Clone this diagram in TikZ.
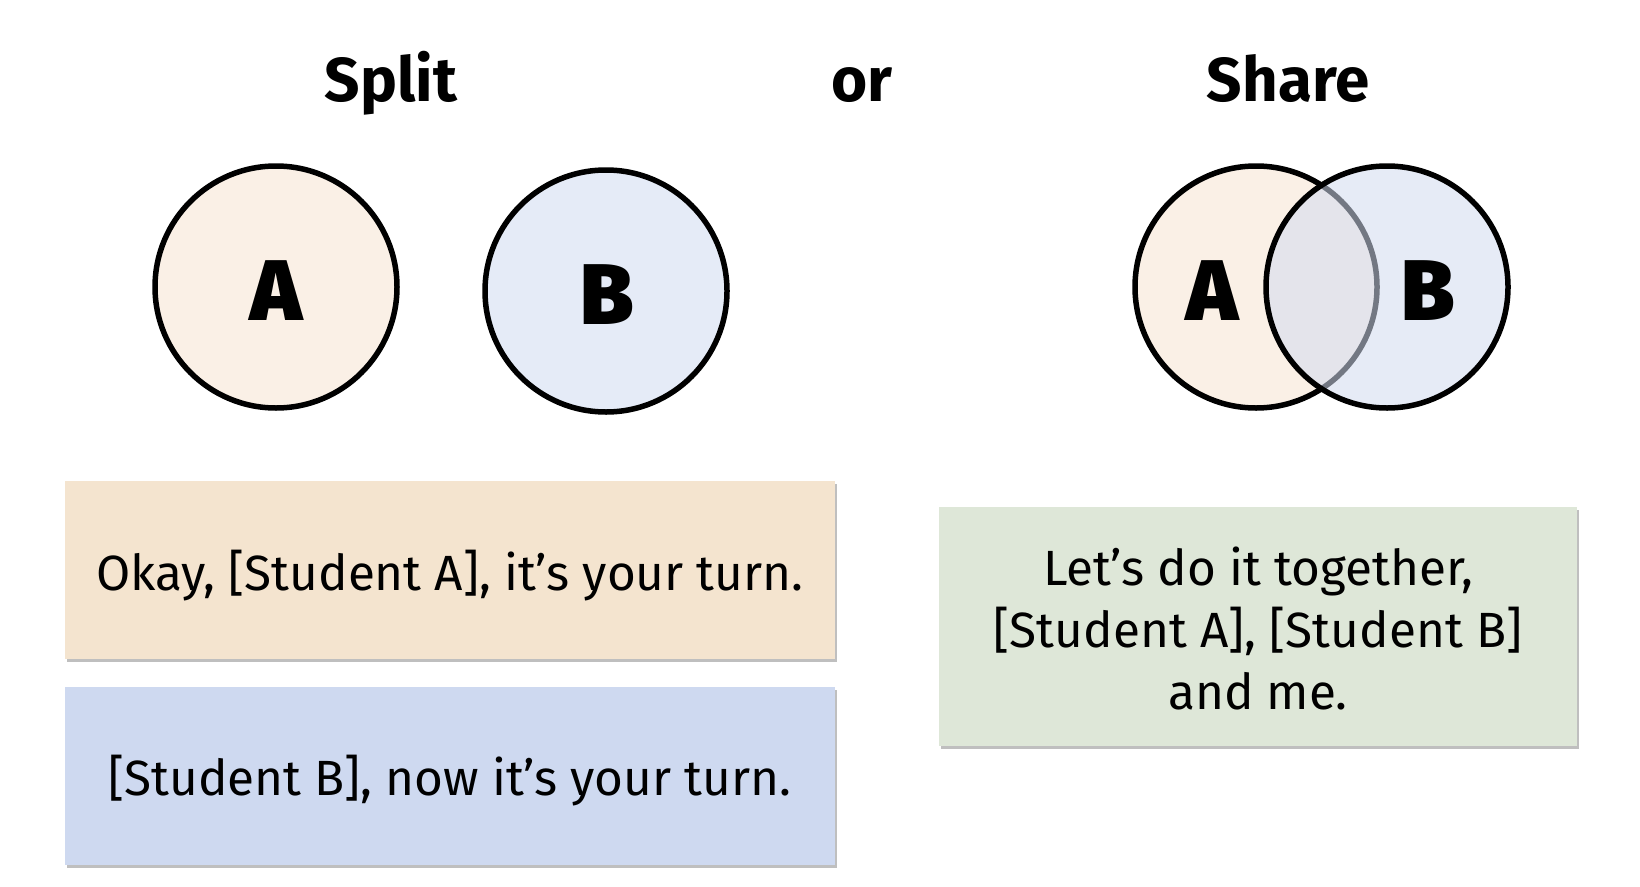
\documentclass[tikz,border=0pt]{standalone}
\usepackage{fontspec}
\setmainfont{Fira Sans}
\newfontfamily\heavyfont{Fira Sans Black}
\usetikzlibrary{shadows}
\definecolor{peachfill}{HTML}{FAF0E6}
\definecolor{bluefill}{HTML}{E5EBF7}
\definecolor{bluemix}{RGB}{210,219,240}
\definecolor{peachbox}{HTML}{F4E4CF}
\definecolor{bluebox}{HTML}{CED9F0}
\definecolor{greenbox}{HTML}{DEE7D8}
\tikzset{
  title/.style={font=\bfseries\fontsize{62}{70}\selectfont, inner sep=0pt},
  setcircle/.style={circle, draw=black, line width=5.5pt, minimum size=242pt, inner sep=0pt},
  setletter/.style={inner sep=0pt, font=\heavyfont\fontsize{86}{90}\selectfont},
  saybox/.style={rectangle, inner sep=0pt, align=center,
     font=\fontsize{49.5}{62}\selectfont,
     drop shadow={shadow xshift=2pt, shadow yshift=-3pt, fill=black, opacity=0.25}},
}
\begin{document}
\begin{tikzpicture}[x=1pt,y=-1pt]
\useasboundingbox (0,0) rectangle (1640,886);
\fill[white] (0,0) rectangle (1640,886);
% titles
\node[title, anchor=base] (tsplit) at (391,101) {Split};
\node[title, anchor=base] (tor) at (862,101) {or};
\node[title, anchor=base] (tshare) at (1288,101) {Share};
% split circles
\node[setcircle, fill=peachfill] (sa) at (276,287) {};
\node[setletter] (lsa) at (276,291) {A};
\node[setcircle, fill=bluefill] (sb) at (606,291) {};
\node[setletter] (lsb) at (607,295) {B};
% share venn
\node[setcircle, fill=peachfill] (va) at (1256,287) {};
\node[setcircle, fill=bluemix, fill opacity=0.55, draw opacity=1] (vb) at (1387,287) {};
\node[setletter] (lva) at (1212,291) {A};
\node[setletter] (lvb) at (1428,291) {B};
% speech boxes
\node[saybox, fill=peachbox, minimum width=770pt, minimum height=178pt] (pa) at (450,570) {};
\node[inner sep=0pt, font=\fontsize{49.5}{62}\selectfont] (tpa) at (450,576)
  {Okay, {[Student A]}, it’s your turn.};
\node[saybox, fill=bluebox, minimum width=770pt, minimum height=178pt] (pb) at (450,776) {};
\node[inner sep=0pt, font=\fontsize{49.5}{62}\selectfont] (tpb) at (450,781)
  {{[Student B]}, now it’s your turn.};
\node[saybox, fill=greenbox, minimum width=638pt, minimum height=239pt] (pc) at (1258,626.5) {};
\node[inner sep=0pt, align=center, font=\fontsize{49.5}{62}\selectfont] (tpc) at (1258,628)
  {Let’s do it together,\\ {[Student A]}, {[Student B]}\\ and me.};
\end{tikzpicture}
\end{document}
